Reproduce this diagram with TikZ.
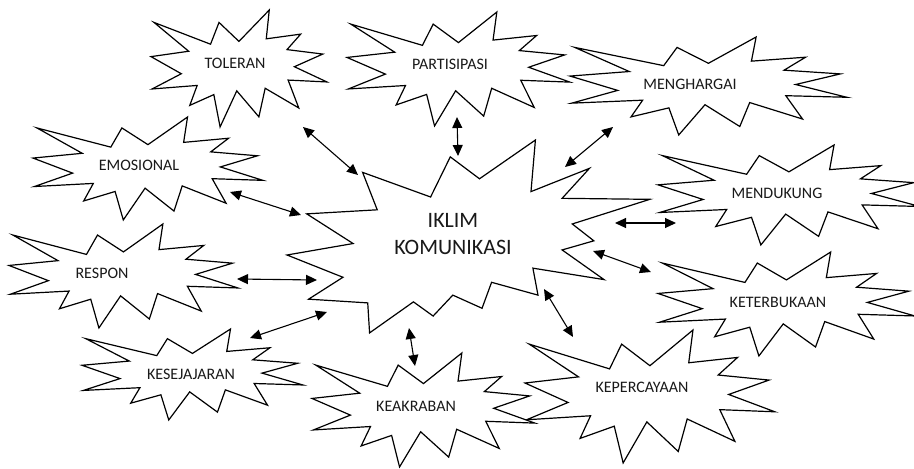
\documentclass[tikz,border=0pt]{standalone}
\usepackage{fontspec}
\setmainfont{Carlito}
\usetikzlibrary{arrows.meta}

% Explosion outline with 12 points, drawn inside the box (#1,#2) of size #3 x #4
\newcommand{\BurstOne}[4]{%
  \begin{scope}[shift={(#1pt,-#2pt)}, x={(#3*0.01pt,0pt)}, y={(0pt,-#4*0.01pt)}]
    \draw[burst] (50,26.85) -- (67.23,0) -- (65.53,24.65) -- (85.09,20.63)
      -- (77.32,33.87) -- (97.67,37.67) -- (81.51,48.50) -- (100,61.53)
      -- (77.95,59.92) -- (84.00,83.77) -- (64.91,66.93) -- (61.33,91.38)
      -- (48.76,69.14) -- (39.28,100) -- (35.72,72.35) -- (22.05,81.56)
      -- (26.24,64.52) -- (0.63,67.53) -- (17.23,54.51) -- (0,39.88)
      -- (21.42,35.26) -- (1.71,10.63) -- (33.85,29.26) -- (38.67,10.63) -- cycle;
  \end{scope}}

% Explosion outline with 14 points
\newcommand{\BurstTwo}[4]{%
  \begin{scope}[shift={(#1pt,-#2pt)}, x={(#3*0.01pt,0pt)}, y={(0pt,-#4*0.01pt)}]
    \draw[burst] (53.06,20.10) -- (68.47,0) -- (67.25,26.75) -- (83.37,14.69)
      -- (75.83,30.24) -- (100,30.76) -- (78.63,43.53) -- (84.58,52.27)
      -- (75.83,56.99) -- (87.39,72.37) -- (67.78,66.44) -- (69.18,80.42)
      -- (56.39,73.77) -- (53.76,87.23) -- (45.70,80.42) -- (40.28,91.26)
      -- (34.85,83.91) -- (22.76,100) -- (22.25,84.44) -- (5.95,82.52)
      -- (15.42,71.16) -- (0,59.62) -- (18.22,53.67) -- (5.43,38.29)
      -- (24.87,36.19) -- (20.84,16.78) -- (39.58,29.55) -- (45.01,8.74) -- cycle;
  \end{scope}}

\begin{document}
\begin{tikzpicture}[x=1pt, y=-1pt,
  burst/.style={draw=black, fill=white, line width=1.2pt, line join=miter},
  label/.style={font=\fontsize{16}{19}\selectfont, text=black!90, inner sep=0pt},
  biglabel/.style={font=\fontsize{22}{27}\selectfont, text=black!90, align=center, inner sep=0pt},
  link/.style={line width=1.1pt, {Triangle[length=11pt,width=10pt]}-{Triangle[length=11pt,width=10pt]}}]

\useasboundingbox (0,0) rectangle (914,469);
\clip (0,0) rectangle (914,469);
\fill[white] (0,0) rectangle (914,469);

% outer bursts
\BurstOne{151}{10}{176}{117}
\BurstOne{33}{117}{230}{103}
\BurstOne{9}{224}{229}{104}
\BurstOne{82}{329}{221}{91}
\BurstOne{347}{12}{223}{114}
\BurstOne{570}{37}{277}{98}
\BurstOne{658}{145}{262}{100}
\BurstOne{658}{252}{257}{104}
\BurstOne{525}{330}{250}{133}
\BurstOne{312}{353}{223}{114}
% central burst
\BurstTwo{287}{140}{363}{193}

% labels
\node[label] (toleran) at (235,63.5) {TOLERAN};
\node[label] (partisipasi) at (450,64) {PARTISIPASI};
\node[label] (menghargai) at (690,84) {MENGHARGAI};
\node[label] (emosional) at (139,165.5) {EMOSIONAL};
\node[label] (mendukung) at (777,193) {MENDUKUNG};
\node[label] (respon) at (102,273) {RESPON};
\node[label] (keterbukaan) at (778,302) {KETERBUKAAN};
\node[label] (kesejajaran) at (191,374) {KESEJAJARAN};
\node[label] (kepercayaan) at (642,387) {KEPERCAYAAN};
\node[label] (keakraban) at (416,406) {KEAKRABAN};
\node[biglabel] (iklim) at (453,234) {IKLIM\\KOMUNIKASI};

% arrow end points
\coordinate (tolA) at (303,127);  \coordinate (tolB) at (358,175);
\coordinate (parA) at (457,117);  \coordinate (parB) at (458,156);
\coordinate (menA) at (613,127);  \coordinate (menB) at (565,167);
\coordinate (emoA) at (230,192);  \coordinate (emoB) at (301,215);
\coordinate (mduA) at (676,223);  \coordinate (mduB) at (615,223);
\coordinate (resA) at (237,279);  \coordinate (resB) at (317,280);
\coordinate (ketA) at (651,272);  \coordinate (ketB) at (593,251);
\coordinate (kesA) at (250,338);  \coordinate (kesB) at (327,312);
\coordinate (kepA) at (573,337);  \coordinate (kepB) at (544,289);
\coordinate (keaA) at (415,366);  \coordinate (keaB) at (409,328);

% double-headed links
\draw[link] (tolA) -- (tolB);
\draw[link] (parA) -- (parB);
\draw[link] (menA) -- (menB);
\draw[link] (emoA) -- (emoB);
\draw[link] (mduA) -- (mduB);
\draw[link] (resA) -- (resB);
\draw[link] (ketA) -- (ketB);
\draw[link] (kesA) -- (kesB);
\draw[link] (kepA) -- (kepB);
\draw[link] (keaA) -- (keaB);
\end{tikzpicture}
\end{document}
